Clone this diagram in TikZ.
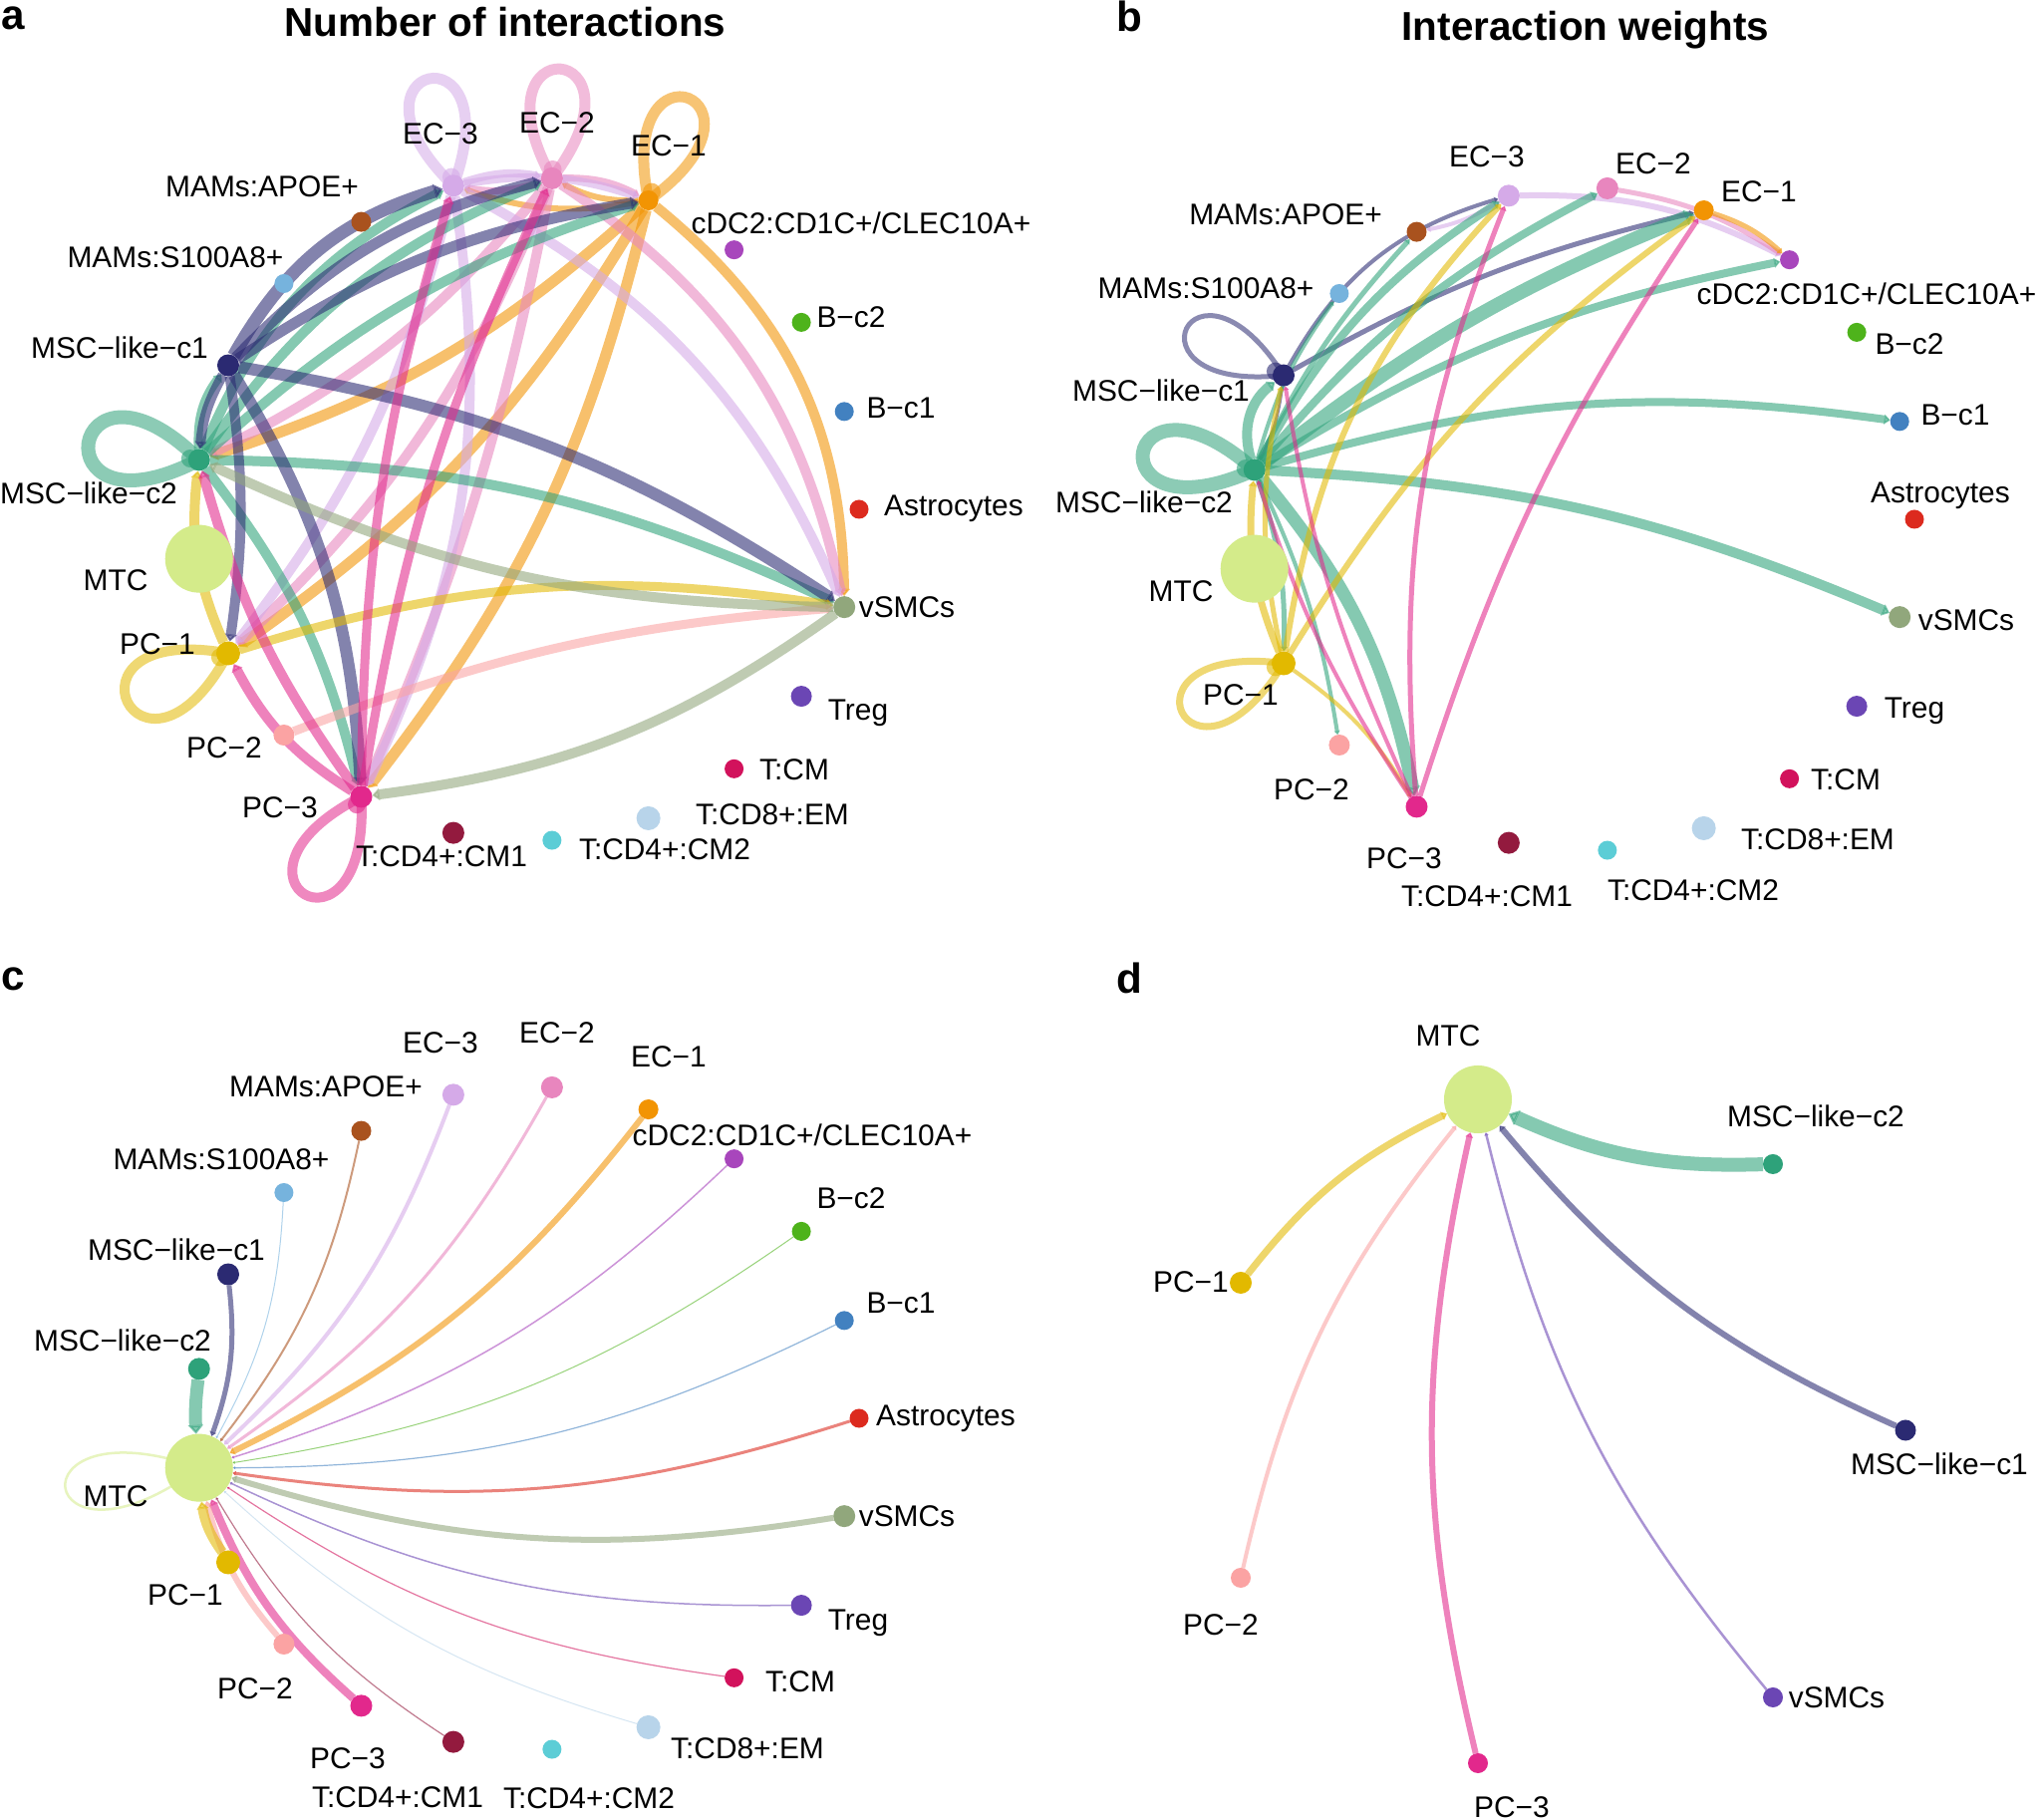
\documentclass[tikz,border=0pt]{standalone}
\usepackage{fontspec}
\setmainfont{Liberation Sans}
\usetikzlibrary{calc,arrows.meta}
\definecolor{cAstro}{HTML}{DC2A1E}
\definecolor{cBc1}{HTML}{4281C0}
\definecolor{cBc2}{HTML}{4EB31B}
\definecolor{ccDC}{HTML}{A846BC}
\definecolor{cEC1}{HTML}{F29403}
\definecolor{cEC2}{HTML}{E886BE}
\definecolor{cEC3}{HTML}{D5AAE8}
\definecolor{cAPOE}{HTML}{A9521E}
\definecolor{cS100}{HTML}{76B3DD}
\definecolor{cc1}{HTML}{2B2A72}
\definecolor{cc2}{HTML}{2EA27A}
\definecolor{cMTC}{HTML}{D4EB8A}
\definecolor{cPC1}{HTML}{E2B900}
\definecolor{cPC2}{HTML}{FBA3A3}
\definecolor{cPC3}{HTML}{E2288C}
\definecolor{cCM1}{HTML}{931A3E}
\definecolor{cCM2}{HTML}{5CCDD6}
\definecolor{cCD8}{HTML}{B8D4EA}
\definecolor{cTCM}{HTML}{D2125C}
\definecolor{cTreg}{HTML}{6B46B4}
\definecolor{cvSMC}{HTML}{91A77C}
\pgfdeclarelayer{bg}
\pgfdeclarelayer{edges}
\pgfsetlayers{bg,edges,main}
\tikzset{
  dot/.style={circle, inner sep=0pt, outer sep=0pt, draw=none},
  lab/.style={font=\fontsize{8.5}{10}\selectfont, inner sep=0pt, text height=6.1pt, text depth=0pt},
  ttl/.style={font=\fontsize{11.5}{13}\selectfont\bfseries, inner sep=0pt, text height=8.3pt, text depth=0pt},
  plet/.style={font=\fontsize{12}{14}\selectfont\bfseries, inner sep=0pt},
  edgesty/.style={opacity=0.58, -{Triangle[length=0.5pt 0.55, width=0.5pt 1.0]}},
  loopsty/.style={opacity=0.55},
}
% edge: [bend]{panel}{source}{target}{width px}
\newcommand\ed[5][13]{\draw[edgesty, draw=c#3, line width=#5*0.2845pt] (#2#3) to[bend left=#1] (#2#4);}
% loop: [L]{panel}{node}{direction}{width}{half-angle}
\newcommand\lp[6][165]{\draw[loopsty, draw=c#3, line width=#5*0.2845pt] (#2#3.center) .. controls +(#4+#6:#1) and +(#4-#6:#1) .. (#2#3.center);}
% ghost circle at loop start
\newcommand\gh[3]{\fill[c#2, opacity=0.6] ($(#1#2.center)+(#3:9)$) circle (9);}
\newcommand\placenodes[3]{%
  \foreach \nm/\k/\sz in {Astro/0/19, Bc1/1/19, Bc2/2/19, cDC/3/19, EC1/4/20, EC2/5/22, EC3/6/22, APOE/7/20, S100/8/19, c1/9/22, c2/10/22, MTC/11/68, PC1/12/24, PC2/13/21, PC3/14/22, CM1/15/22, CM2/16/19, CD8/17/24, TCM/18/19, Treg/19/21, vSMC/20/22}{%
    \node[dot, fill=c\nm, minimum size=\sz*0.2845pt] (#1\nm) at ($(#2,#3)+(\k*360/21:333)$) {};
  }%
}
\begin{document}
\begin{tikzpicture}[x=0.01cm,y=0.01cm]
\begin{pgfonlayer}{bg}\fill[white] (0,0) rectangle (2050,1826);\end{pgfonlayer}
\useasboundingbox (0,0) rectangle (2050,1826);

%================ nodes
\placenodes{a}{529}{1315}
\placenodes{b}{1588}{1305}
\placenodes{c}{529}{403}
\node[dot, fill=cMTC, minimum size=68*0.2845pt] (dMTC) at (1483,723) {};
\node[dot, fill=cc2, minimum size=20*0.2845pt] (dc2) at (1779,658) {};
\node[dot, fill=cPC1, minimum size=22*0.2845pt] (dPC1) at (1245,539) {};
\node[dot, fill=cc1, minimum size=21*0.2845pt] (dc1) at (1912,391) {};
\node[dot, fill=cPC2, minimum size=20*0.2845pt] (dPC2) at (1245,243) {};
\node[dot, fill=cTreg, minimum size=20*0.2845pt] (dvSMC) at (1779,123) {};
\node[dot, fill=cPC3, minimum size=20*0.2845pt] (dPC3) at (1483,57) {};

%================ edges
\begin{pgfonlayer}{edges}
% ---- panel a
\ed[25]{a}{EC1}{vSMC}{10}
\ed[12]{a}{EC1}{PC3}{11}
\ed[12]{a}{EC1}{PC1}{11}
\ed[12]{a}{EC1}{c2}{11}
\ed[14]{a}{EC1}{EC2}{6}
\ed[14]{a}{EC1}{EC3}{6}
\ed[22]{a}{EC2}{vSMC}{10}
\ed[6]{a}{EC2}{PC3}{10}
\ed[12]{a}{EC2}{PC1}{10}
\ed[12]{a}{EC2}{c2}{10}
\ed[14]{a}{EC2}{EC1}{7}
\ed[14]{a}{EC2}{EC3}{7}
\ed[19]{a}{EC3}{vSMC}{10}
\ed[17]{a}{EC3}{PC3}{10}
\ed[12]{a}{EC3}{PC1}{10}
\ed[14]{a}{EC3}{EC2}{8}
\ed[14]{a}{EC3}{EC1}{8}
\ed[20]{a}{c2}{EC3}{10}
\ed[16]{a}{c2}{EC2}{10}
\ed[12]{a}{c2}{EC1}{10}
\ed[20]{a}{c2}{c1}{9}
\ed[12]{a}{c2}{vSMC}{10}
\ed[12]{a}{c2}{PC3}{10}
\ed[22]{a}{c1}{EC3}{13}
\ed[16]{a}{c1}{EC2}{11}
\ed[12]{a}{c1}{EC1}{11}
\ed[12]{a}{c1}{vSMC}{12}
\ed[14]{a}{c1}{PC3}{12}
\ed[8]{a}{c1}{PC1}{10}
\ed[-12]{a}{c1}{c2}{10}
\ed[13]{a}{PC1}{vSMC}{9}
\ed[15]{a}{PC1}{c2}{10}
\ed[8]{a}{PC2}{vSMC}{9}
\ed[8]{a}{PC3}{EC3}{9}
\ed[8]{a}{PC3}{EC2}{9}
\ed[15]{a}{PC3}{PC1}{10}
\ed[10]{a}{PC3}{c2}{10}
\ed[12]{a}{vSMC}{c2}{10}
\ed[14]{a}{vSMC}{PC3}{10}
\lp[185]{a}{c2}{171.4}{14}{36}
\lp[175]{a}{EC3}{102.9}{11}{33}
\lp[175]{a}{EC2}{85.7}{11}{33}
\lp[175]{a}{EC1}{68.6}{11}{33}
\lp[185]{a}{PC1}{205.7}{10}{36}
\lp[180]{a}{PC3}{240}{10}{33}
\gh{a}{c2}{171.4}\gh{a}{EC3}{102.9}\gh{a}{EC2}{85.7}\gh{a}{EC1}{68.6}\gh{a}{PC1}{205.7}\gh{a}{PC3}{240}
% ---- panel b
\ed[10]{b}{EC3}{APOE}{4}
\ed[14]{b}{EC3}{cDC}{6}
\ed[12]{b}{EC2}{cDC}{5}
\ed[12]{b}{EC1}{cDC}{5}
\ed[22]{b}{c1}{EC3}{4}
\ed[8]{b}{c1}{EC1}{5}
\ed[10]{b}{c1}{c2}{3}
\ed[10]{b}{c2}{S100}{4}
\ed[8]{b}{c2}{APOE}{5}
\ed[14]{b}{c2}{EC3}{8}
\ed[11]{b}{c2}{EC2}{8}
\ed[8]{b}{c2}{EC1}{14}
\ed[10]{b}{c2}{cDC}{8}
\ed[12]{b}{c2}{Bc1}{8}
\ed[10]{b}{c2}{vSMC}{10}
\ed[14]{b}{c2}{PC3}{13}
\ed[8]{b}{c2}{PC2}{4}
\ed[10]{b}{c2}{PC1}{5}
\ed[35]{b}{c2}{c1}{10}
\ed[17]{b}{PC1}{EC3}{6}
\ed[11]{b}{PC1}{EC1}{6}
\ed[14]{b}{PC1}{c2}{7}
\ed[12]{b}{PC1}{c1}{5}
\ed[12]{b}{PC1}{PC3}{4}
\ed[13]{b}{PC3}{EC3}{5}
\ed[8]{b}{PC3}{EC1}{5}
\ed[8]{b}{PC3}{c1}{4}
\ed[8]{b}{PC3}{c2}{4}
\lp[180]{b}{c2}{171.4}{14}{33}
\lp[170]{b}{c1}{154.3}{5}{32}
\lp[180]{b}{PC1}{205.7}{7}{33}
\gh{b}{c2}{171.4}\gh{b}{c1}{154.3}\gh{b}{PC1}{205.7}
% ---- panel c
\ed[-5]{c}{c2}{MTC}{13}
\ed{c}{c1}{MTC}{5}
\ed{c}{S100}{MTC}{1}
\ed{c}{APOE}{MTC}{2}
\ed{c}{EC3}{MTC}{4}
\ed{c}{EC2}{MTC}{3}
\ed{c}{EC1}{MTC}{6}
\ed{c}{cDC}{MTC}{1.5}
\ed{c}{Bc2}{MTC}{1}
\ed{c}{Bc1}{MTC}{1.2}
\ed{c}{Astro}{MTC}{3}
\ed{c}{vSMC}{MTC}{6}
\ed{c}{Treg}{MTC}{1.5}
\ed{c}{TCM}{MTC}{1.2}
\ed{c}{CD8}{MTC}{1}
\ed{c}{CM1}{MTC}{1.2}
\ed{c}{PC3}{MTC}{8}
\ed{c}{PC2}{MTC}{6}
\ed{c}{PC1}{MTC}{10}
\lp[205]{c}{MTC}{188.6}{2.5}{28}
% ---- panel d
\ed{d}{c2}{MTC}{14}
\ed{d}{c1}{MTC}{6}
\draw[edgesty, draw=cTreg, line width=2.5*0.2845pt] (dvSMC) to[bend left=13] (dMTC);
\ed{d}{PC3}{MTC}{6}
\ed{d}{PC2}{MTC}{4}
\ed{d}{PC1}{MTC}{7}
\end{pgfonlayer}

%================ titles and panel letters
\node[plet] (pa) at (13,1808) {a};
\node[plet] (pb) at (1133,1810) {b};
\node[plet] (pc) at (13,844) {c};
\node[plet] (pd) at (1133,845) {d};
\node[ttl] (ta) at (507,1804) {Number of interactions};
\node[ttl] (tb) at (1591,1800) {Interaction weights};

%================ labels panel a
\node[lab] (la1) at (442,1692) {EC−3};
\node[lab] (la2) at (559,1703) {EC−2};
\node[lab] (la3) at (671,1680) {EC−1};
\node[lab] (la4) at (263,1639) {MAMs:APOE+};
\node[lab] (la5) at (864,1602) {cDC2:CD1C+/CLEC10A+};
\node[lab] (la6) at (176,1568) {MAMs:S100A8+};
\node[lab] (la7) at (854,1508) {B−c2};
\node[lab] (la8) at (120,1477) {MSC−like−c1};
\node[lab] (la9) at (904,1417) {B−c1};
\node[lab] (la10) at (89,1331) {MSC−like−c2};
\node[lab] (la11) at (957,1319) {Astrocytes};
\node[lab] (la12) at (116,1244) {MTC};
\node[lab] (la13) at (910,1217) {vSMCs};
\node[lab] (la14) at (158,1180) {PC−1};
\node[lab] (la15) at (861,1114) {Treg};
\node[lab] (la16) at (225,1076) {PC−2};
\node[lab] (la17) at (797,1054) {T:CM};
\node[lab] (la18) at (281,1016) {PC−3};
\node[lab] (la19) at (775,1009) {T:CD8+:EM};
\node[lab] (la20) at (443,967) {T:CD4+:CM1};
\node[lab] (la21) at (667,974) {T:CD4+:CM2};
%================ labels panel b
\node[lab] (lb1) at (1492,1669) {EC−3};
\node[lab] (lb2) at (1659,1662) {EC−2};
\node[lab] (lb3) at (1765,1634) {EC−1};
\node[lab] (lb4) at (1290,1611) {MAMs:APOE+};
\node[lab] (lb5) at (1873,1531) {cDC2:CD1C+/CLEC10A+};
\node[lab] (lb6) at (1210,1537) {MAMs:S100A8+};
\node[lab] (lb7) at (1916,1481) {B−c2};
\node[lab] (lb8) at (1165,1434) {MSC−like−c1};
\node[lab] (lb9) at (1962,1410) {B−c1};
\node[lab] (lb10) at (1148,1322) {MSC−like−c2};
\node[lab] (lb11) at (1947,1332) {Astrocytes};
\node[lab] (lb12) at (1185,1233) {MTC};
\node[lab] (lb13) at (1973,1204) {vSMCs};
\node[lab] (lb14) at (1245,1129) {PC−1};
\node[lab] (lb15) at (1921,1116) {Treg};
\node[lab] (lb16) at (1316,1034) {PC−2};
\node[lab] (lb17) at (1852,1044) {T:CM};
\node[lab] (lb18) at (1409,965) {PC−3};
\node[lab] (lb19) at (1824,984) {T:CD8+:EM};
\node[lab] (lb20) at (1492,927) {T:CD4+:CM1};
\node[lab] (lb21) at (1699,933) {T:CD4+:CM2};
%================ labels panel c
\node[lab] (lc1) at (442,780) {EC−3};
\node[lab] (lc2) at (559,790) {EC−2};
\node[lab] (lc3) at (671,766) {EC−1};
\node[lab] (lc4) at (327,736) {MAMs:APOE+};
\node[lab] (lc5) at (805,687) {cDC2:CD1C+/CLEC10A+};
\node[lab] (lc6) at (222,663) {MAMs:S100A8+};
\node[lab] (lc7) at (854,624) {B−c2};
\node[lab] (lc8) at (177,572) {MSC−like−c1};
\node[lab] (lc9) at (904,519) {B−c1};
\node[lab] (lc10) at (123,481) {MSC−like−c2};
\node[lab] (lc11) at (949,406) {Astrocytes};
\node[lab] (lc12) at (116,325) {MTC};
\node[lab] (lc13) at (910,305) {vSMCs};
\node[lab] (lc14) at (186,226) {PC−1};
\node[lab] (lc15) at (861,201) {Treg};
\node[lab] (lc16) at (256,132) {PC−2};
\node[lab] (lc17) at (803,139) {T:CM};
\node[lab] (lc18) at (349,62) {PC−3};
\node[lab] (lc19) at (750,72) {T:CD8+:EM};
\node[lab] (lc20) at (399,23) {T:CD4+:CM1};
\node[lab] (lc21) at (591,22) {T:CD4+:CM2};
%================ labels panel d
\node[lab] (ld1) at (1453,787) {MTC};
\node[lab] (ld2) at (1822,706) {MSC−like−c2};
\node[lab] (ld3) at (1195,540) {PC−1};
\node[lab] (ld4) at (1946,357) {MSC−like−c1};
\node[lab] (ld5) at (1225,196) {PC−2};
\node[lab] (ld6) at (1843,123) {vSMCs};
\node[lab] (ld7) at (1517,13) {PC−3};
\end{tikzpicture}
\end{document}
